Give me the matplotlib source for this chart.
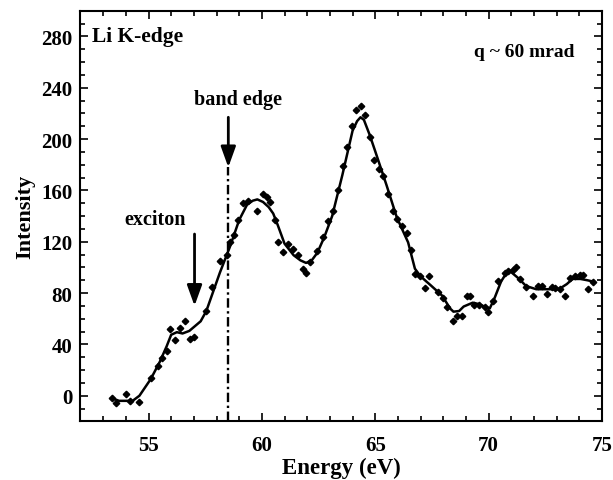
import matplotlib
matplotlib.use("Agg")
import matplotlib.pyplot as plt
from matplotlib.ticker import MultipleLocator

plt.rcParams["font.family"] = ["Liberation Serif", "DejaVu Serif"]
plt.rcParams["font.weight"] = "bold"

# measured points (energy in eV, intensity)
point_x = [53.40, 53.58, 54.00, 54.20, 54.60, 55.10, 55.40, 55.60, 55.80, 55.96,
           56.19, 56.38, 56.60, 56.82, 57.00, 57.52, 57.78, 58.15, 58.44,
           58.59, 58.77, 58.95, 59.17, 59.38, 59.78, 60.05, 60.22, 60.36, 60.58,
           60.71, 60.94, 61.16, 61.38, 61.60, 61.82, 61.96, 62.14, 62.43, 62.70,
           62.93, 63.15, 63.37, 63.59, 63.77,
           63.99, 64.17, 64.38, 64.56, 64.78, 64.96, 65.18, 65.36, 65.58, 65.79,
           65.97, 66.19, 66.42, 66.59, 66.76, 66.98, 67.21, 67.38, 67.78, 68.00,
           68.18, 68.41, 68.62, 68.83, 69.05, 69.19, 69.36, 69.59, 69.82, 69.99,
           70.20, 70.42, 70.73, 70.87, 71.09, 71.22, 71.40, 71.66, 71.97, 72.19,
           72.37, 72.59, 72.80, 72.94, 73.16, 73.38, 73.59, 73.82, 74.05, 74.18,
           74.40, 74.62]
point_y = [-2, -6, 1.5, -4, -5, 14, 23, 29, 34.5, 52,
           43.5, 52.5, 58, 44.5, 45.5, 66, 85, 105, 110,
           120, 125, 137, 150, 152, 144, 157, 155, 151, 137,
           120, 112, 118, 114.5, 109.5, 99, 96, 104, 112.5, 124,
           136, 144, 160, 179, 193.5,
           210, 223, 226, 219, 202, 184, 177, 171, 157, 144,
           138, 132, 126.5, 113.5, 95, 93, 84, 93, 81, 76,
           69.5, 58, 62.5, 62, 78, 78, 71, 71, 69.5, 65.5,
           74, 89.5, 96, 97, 98, 100, 91, 85, 78, 85.5,
           85.5, 79.5, 85, 84, 83.5, 78, 92, 93, 94, 94,
           83.5, 89]

# smooth fit curve
fit_x = [53.40, 53.70, 54.00, 54.30, 54.60, 55.10, 55.50, 55.80, 56.00, 56.25,
         56.50, 56.80, 57.00, 57.30, 57.55, 57.85, 58.15, 58.60, 59.00, 59.35,
         59.60, 59.80, 60.05, 60.30, 60.50, 60.70, 61.00, 61.40, 61.70, 61.95,
         62.20, 62.45, 62.75, 63.10, 63.55, 64.00, 64.20, 64.35, 64.50, 64.75,
         65.00, 65.50, 65.95, 66.45, 66.75, 67.00, 67.45, 67.95, 68.30, 68.45,
         68.70, 68.90, 69.30, 69.55, 69.75, 70.05, 70.25, 70.55, 70.80, 70.95,
         71.35, 71.65, 72.10, 72.60, 73.10, 73.45, 73.70, 74.05, 74.35, 74.60]
fit_y = [-2, -4, -4, -4, 0, 13, 26.5, 38.5, 47.5, 49.5,
         48.5, 50.5, 53.5, 58, 66, 81, 96, 116.5, 137, 149,
         152, 153, 151, 147, 142, 133, 118.5, 109.5, 105.5, 103.5,
         105.5, 111.5, 123.5, 140, 172, 206.5, 214, 217, 215, 203.5,
         190.5, 164, 139, 119.5, 99, 93, 86, 78, 68, 65.5,
         66, 69.5, 72.5, 71.5, 70, 68, 75.5, 89, 96, 97,
         91, 85.5, 83, 83, 83, 87, 91, 91, 90, 89]

band_edge_x = 58.52
exciton_x = 57.03

fig = plt.figure(figsize=(6.13, 4.81), dpi=100)
ax = fig.add_axes([0.1313, 0.1219, 0.8507, 0.8536])

ax.plot(fit_x, fit_y, color="black", lw=1.8, zorder=2)
ax.plot(point_x, point_y, ls="none", marker="D", ms=3.3, color="black", zorder=3)

# band edge marker
ax.plot([band_edge_x, band_edge_x], [-20, 178], color="black", lw=1.7,
        ls=(0, (4, 1.5, 1, 1.5)), zorder=1)
arrow = dict(arrowstyle="-|>,head_length=1.25,head_width=0.45", lw=2,
             color="black", mutation_scale=10, shrinkA=0, shrinkB=0)
ax.annotate("", xy=(band_edge_x, 178), xytext=(band_edge_x, 217), arrowprops=arrow)
ax.annotate("", xy=(exciton_x, 70), xytext=(exciton_x, 126), arrowprops=arrow)

ax.text(58.95, 231, "band edge", ha="center", va="center", fontsize=14.5, fontweight="bold")
ax.text(55.3, 137.5, "exciton", ha="center", va="center", fontsize=14.5, fontweight="bold")
ax.text(52.5, 280, "Li K-edge", ha="left", va="center",
        fontsize=15.5, fontweight="bold")
ax.text(73.8, 268, "q ~ 60 mrad", ha="right", va="center", fontsize=14, fontweight="bold")

ax.set_xlim(52, 75)
ax.set_ylim(-20, 300)
ax.xaxis.set_major_locator(MultipleLocator(5))
ax.xaxis.set_minor_locator(MultipleLocator(1))
ax.set_yticks([0, 40, 80, 120, 160, 200, 240, 280])
ax.yaxis.set_minor_locator(MultipleLocator(10))
ax.tick_params(which="both", direction="in", top=True, right=True, width=1.2,
               labelsize=15)
ax.tick_params(which="major", length=6)
ax.tick_params(which="minor", length=3.5)
ax.tick_params(axis="x", which="major", pad=10)
ax.tick_params(axis="y", which="major", pad=6)
for lbl in ax.get_xticklabels() + ax.get_yticklabels():
    lbl.set_fontweight("bold")
for s in ax.spines.values():
    s.set_linewidth(1.5)

ax.set_xlabel("Energy (eV)", fontsize=16.5, fontweight="bold", labelpad=1)
ax.set_ylabel("Intensity", fontsize=16, fontweight="bold", labelpad=4)

fig.savefig("out.png", dpi=100)
